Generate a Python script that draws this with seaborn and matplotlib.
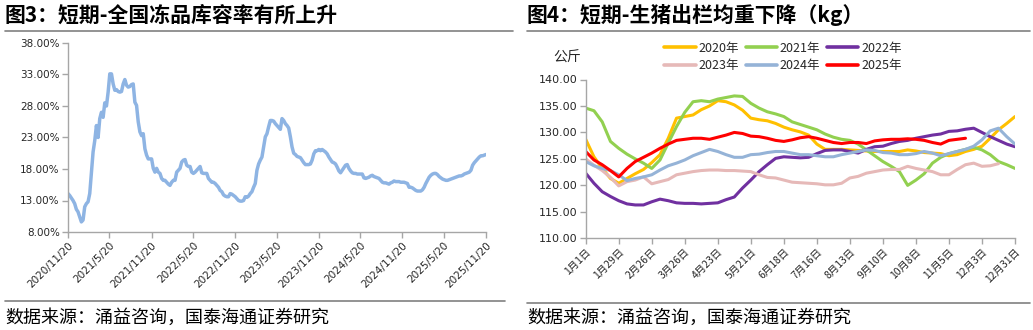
import numpy as np
import pandas as pd
import matplotlib
matplotlib.use("Agg")
import matplotlib.pyplot as plt
from matplotlib.ticker import FuncFormatter
from matplotlib.lines import Line2D
import seaborn as sns

# ---------------- data ----------------
left_title = "图3：短期-全国冻品库容率有所上升"
right_title = "图4：短期-生猪出栏均重下降（kg）"
source_text = "数据来源：涌益咨询，国泰海通证券研究"

storage_start = "2020-11-20"
storage_end = "2025-11-20"
storage_rate = [
    14.1, 13.8, 13.4, 13.0, 12.5, 11.6, 11.2, 10.4, 9.6, 9.9, 12.0, 12.5, 12.8, 14.1, 17.5, 20.7,
    22.5, 24.9, 23.0, 26.0, 27.0, 26.2, 28.5, 28.0, 30.2, 33.1, 33.1, 31.5, 30.5, 30.6, 30.3, 30.2,
    30.3, 31.5, 32.2, 31.3, 31.0, 31.1, 31.4, 31.5, 28.6, 28.1, 25.5, 23.9, 23.3, 23.6, 21.2, 20.2,
    19.6, 19.6, 19.6, 18.1, 17.5, 18.1, 17.5, 17.3, 16.5, 16.2, 16.2, 15.9, 15.6, 15.4, 15.9, 16.2,
    16.2, 17.5, 17.8, 18.1, 19.1, 19.4, 19.5, 18.6, 18.4, 18.4, 17.5, 17.3, 17.5, 17.8, 18.1, 18.4,
    17.4, 17.3, 17.3, 17.3, 16.5, 16.2, 15.9, 15.9, 15.7, 15.4, 15.1, 14.6, 14.4, 13.9, 13.7, 13.6,
    13.6, 14.1, 14.0, 13.8, 13.6, 13.3, 13.0, 12.9, 12.9, 13.0, 13.6, 13.5, 13.7, 14.1, 14.4, 15.1,
    15.7, 17.8, 18.8, 19.4, 19.9, 21.5, 23.1, 23.6, 24.7, 25.7, 25.7, 25.6, 25.2, 24.9, 24.6, 24.3,
    26.0, 25.7, 25.2, 24.9, 24.5, 23.1, 21.5, 20.5, 20.3, 20.0, 19.9, 19.8, 19.4, 19.0, 18.7, 18.7,
    18.7, 18.8, 19.4, 20.4, 20.9, 20.9, 21.1, 20.9, 21.1, 20.9, 20.7, 20.4, 19.9, 19.5, 19.1, 19.0,
    18.8, 18.3, 17.7, 17.4, 17.8, 18.2, 18.6, 18.7, 18.1, 17.7, 17.4, 17.3, 17.3, 17.2, 17.2, 17.2,
    17.2, 16.6, 16.5, 16.6, 16.7, 16.9, 17.0, 16.8, 16.7, 16.6, 16.5, 16.2, 15.9, 15.8, 15.8, 15.7,
    15.6, 15.8, 15.9, 16.1, 16.0, 16.0, 16.0, 15.9, 15.9, 15.9, 15.8, 15.7, 15.1, 15.1, 15.0, 14.8,
    14.6, 14.5, 14.5, 14.5, 14.7, 15.1, 15.7, 16.2, 16.7, 17.0, 17.2, 17.3, 17.3, 17.1, 16.8, 16.6,
    16.4, 16.3, 16.2, 16.2, 16.3, 16.4, 16.5, 16.6, 16.7, 16.8, 16.9, 16.9, 17.0, 17.2, 17.3, 17.4,
    17.5, 17.8, 18.6, 19.0, 19.3, 19.6, 19.9, 20.1, 20.1, 20.2, 20.3,
]
storage_ticks = ["2020-11-20", "2021-05-20", "2021-11-20", "2022-05-20", "2022-11-20", "2023-05-20",
                 "2023-11-20", "2024-05-20", "2024-11-20", "2025-05-20", "2025-11-20"]
storage_yticks = [8, 13, 18, 23, 28, 33, 38]

years = ["2020年", "2021年", "2022年", "2023年", "2024年", "2025年"]
w2020 = [128.7, 125.4, 123.2, 121.3, 120.4, 121.3, 122.2, 123.0, 124.3, 125.8, 128.9, 132.7, 133.0,
         133.3, 134.3, 135.0, 136.0, 135.8, 135.2, 134.2, 132.7, 132.4, 132.2, 131.7, 131.0, 130.5,
         130.1, 129.5, 127.8, 126.8, 126.8, 126.8, 126.7, 126.6, 126.5, 126.4, 126.4, 126.4, 126.4,
         126.7, 126.5, 126.2, 126.1, 126.0, 125.6, 125.8, 126.4, 126.8, 127.4, 128.9, 130.5, 131.7, 133.0]
w2021 = [134.6, 134.1, 132.0, 128.3, 127.0, 125.9, 125.0, 124.2, 123.2, 124.8, 128.0, 131.1, 133.8,
         135.8, 136.0, 135.8, 136.3, 136.6, 136.9, 136.8, 135.5, 134.6, 133.9, 133.5, 133.0, 132.0,
         131.5, 131.0, 130.5, 129.7, 129.1, 128.7, 128.5, 127.8, 126.7, 125.6, 124.5, 123.6, 122.6,
         120.0, 121.0, 122.2, 124.2, 125.3, 126.0, 126.4, 126.8, 127.2, 126.7, 125.8, 124.5, 123.9, 123.2]
w2022 = [122.3, 120.4, 118.8, 117.9, 117.1, 116.5, 116.3, 116.3, 116.9, 117.4, 117.1, 116.7, 116.6,
         116.6, 116.5, 116.6, 116.7, 117.3, 117.8, 119.5, 121.0, 122.6, 123.9, 125.1, 125.4, 125.3,
         125.2, 125.3, 126.0, 126.6, 126.7, 126.7, 126.4, 126.1, 126.8, 127.3, 127.4, 127.9, 128.3,
         128.5, 128.9, 129.2, 129.5, 129.7, 130.2, 130.3, 130.6, 130.8, 130.0, 129.2, 128.5, 127.8, 127.3]
w2023 = [125.0, 123.8, 122.8, 121.5, 119.9, 120.7, 121.0, 121.6, 120.3, 120.7, 121.1, 122.0, 122.3,
         122.6, 122.8, 122.9, 122.9, 122.8, 122.8, 122.7, 122.6, 122.0, 121.5, 121.4, 121.0, 120.6,
         120.5, 120.4, 120.3, 120.1, 120.1, 120.4, 121.4, 121.7, 122.3, 122.6, 122.9, 123.0, 123.0,
         123.6, 123.2, 122.9, 122.6, 122.0, 122.0, 123.0, 123.9, 124.2, 123.6, 123.7, 124.1]
w2024 = [124.5, 123.7, 123.2, 122.8, 122.0, 120.9, 121.3, 121.6, 122.0, 122.9, 123.7, 124.2, 124.8,
         125.6, 126.2, 126.8, 126.4, 125.8, 125.3, 125.3, 125.8, 125.9, 126.2, 126.4, 126.4, 126.1,
         125.8, 125.8, 125.6, 125.4, 125.4, 125.8, 126.1, 126.4, 126.7, 126.6, 126.2, 126.1, 125.8,
         125.8, 126.0, 126.4, 126.1, 125.6, 126.0, 126.4, 126.8, 127.4, 128.6, 130.3, 130.8, 129.2, 127.8]
w2025 = [126.4, 124.8, 123.9, 122.8, 121.6, 123.2, 124.5, 125.3, 126.1, 127.0, 127.8, 128.5, 128.7,
         128.9, 128.9, 128.7, 129.1, 129.5, 130.0, 129.8, 129.3, 129.2, 128.9, 128.5, 128.3, 128.6,
         129.0, 129.2, 128.9, 128.5, 128.1, 127.9, 128.1, 128.1, 127.9, 128.4, 128.6, 128.7, 128.7,
         128.8, 128.7, 128.5, 128.1, 127.8, 128.5, 128.7, 128.9]
weights = [w2020, w2021, w2022, w2023, w2024, w2025]
year_colors = ["#FFC000", "#92D050", "#7030A0", "#E6B9B8", "#95B3D7", "#FF0000"]
day_tick_labels = ["1月1日", "1月29日", "2月26日", "3月26日", "4月23日", "5月21日", "6月18日",
                   "7月16日", "8月13日", "9月10日", "10月8日", "11月5日", "12月3日", "12月31日"]
weight_yticks = [110, 115, 120, 125, 130, 135, 140]

# ---------------- style ----------------
sns.set_theme(style="white")
plt.rcParams["font.family"] = ["Noto Sans CJK SC", "DejaVu Sans"]
TXT = "#262626"
AX = "#A6A6A6"

fig = plt.figure(figsize=(10.33, 3.30), dpi=100)

# ---- Left chart ----
axL = fig.add_axes([68 / 1033, 1 - 232 / 330, (486 - 68) / 1033, (232 - 43) / 330])
df_left = pd.DataFrame({
    "date": pd.date_range(storage_start, storage_end, periods=len(storage_rate)),
    "rate": storage_rate,
})
sns.lineplot(data=df_left, x="date", y="rate", ax=axL, color="#8EB4E3", linewidth=2.5)
tick_dates = pd.to_datetime(storage_ticks)
axL.set_xlim(tick_dates[0], tick_dates[-1])
axL.set_xticks(tick_dates)
axL.set_xticklabels([f"{d.year}/{d.month}/{d.day}" for d in tick_dates], rotation=45,
                    ha="right", rotation_mode="anchor", fontsize=7.5, color=TXT,
                    family=["DejaVu Sans"])
axL.set_ylim(storage_yticks[0], storage_yticks[-1])
axL.set_yticks(storage_yticks)
axL.yaxis.set_major_formatter(FuncFormatter(lambda v, p: f"{v:.2f}%"))
for lab in axL.get_yticklabels():
    lab.set_fontsize(7.5)
    lab.set_color(TXT)
    lab.set_family(["DejaVu Sans"])
axL.set_xlabel("")
axL.set_ylabel("")

# ---- Right chart ----
axR = fig.add_axes([585.7 / 1033, 1 - 238.3 / 330, (1015 - 585.7) / 1033, (238.3 - 79.5) / 330])
rows = []
for yr, vals in zip(years, weights):
    for k, v in enumerate(vals):
        rows.append({"day": 7 * k, "weight": v, "year": yr})
df_right = pd.DataFrame(rows)
sns.lineplot(data=df_right, x="day", y="weight", hue="year", hue_order=years,
             palette=dict(zip(years, year_colors)), ax=axR, linewidth=2.2, legend=False)
axR.set_xlim(0, 364)
axR.set_xticks(np.arange(len(day_tick_labels)) * 28)
axR.set_xticklabels(day_tick_labels, rotation=45, ha="right", rotation_mode="anchor",
                    fontsize=7.5, color=TXT)
axR.set_ylim(weight_yticks[0], weight_yticks[-1])
axR.set_yticks(weight_yticks)
axR.yaxis.set_major_formatter(FuncFormatter(lambda v, p: f"{v:.2f}"))
for lab in axR.get_yticklabels():
    lab.set_fontsize(8)
    lab.set_color(TXT)
    lab.set_family(["DejaVu Sans"])
axR.set_xlabel("")
axR.set_ylabel("")
fig.text(567 / 1033, 1 - 58 / 330, "公斤", fontsize=10, color=TXT, ha="center", va="center")

# legend: row-wise order in a 2x3 grid (matplotlib fills column-wise)
order = [0, 3, 1, 4, 2, 5]
handles = [Line2D([], [], color=year_colors[i], linewidth=2.6) for i in order]
labels = [years[i] for i in order]
fig.legend(handles, labels, ncol=3, loc="center", bbox_to_anchor=(783 / 1033, 1 - 57 / 330),
           frameon=False, fontsize=9, handlelength=2.5, handletextpad=0.25, columnspacing=0.5,
           labelspacing=0.35, labelcolor=TXT)

for ax in (axL, axR):
    for s in ("top", "right"):
        ax.spines[s].set_visible(False)
    for s in ("left", "bottom"):
        ax.spines[s].set_color(AX)
        ax.spines[s].set_linewidth(1.0)
    ax.tick_params(axis="both", which="major", direction="out", length=4, width=1.0,
                   color=AX, pad=2, left=True, bottom=True)
    ax.grid(False)
    ax.set_facecolor("white")

# ---- titles, rules, footers ----
fig.text(5 / 1033, 1 - 15 / 330, left_title, fontsize=15, fontweight="bold", color="black",
         ha="left", va="center")
fig.text(527 / 1033, 1 - 15 / 330, right_title, fontsize=15, fontweight="bold", color="black",
         ha="left", va="center")
for (x0, x1, y) in [(5, 513, 30.5), (527, 1030, 30.5), (5, 505, 301), (527, 1030, 303)]:
    fig.add_artist(Line2D([x0 / 1033, x1 / 1033], [1 - y / 330, 1 - y / 330], color="#808080",
                          linewidth=1.2, transform=fig.transFigure))
fig.text(5 / 1033, 1 - 318 / 330, source_text, fontsize=13, color="black", ha="left", va="center")
fig.text(527 / 1033, 1 - 318 / 330, source_text, fontsize=13, color="black", ha="left", va="center")

fig.savefig("out.png", dpi=100, facecolor="white")
